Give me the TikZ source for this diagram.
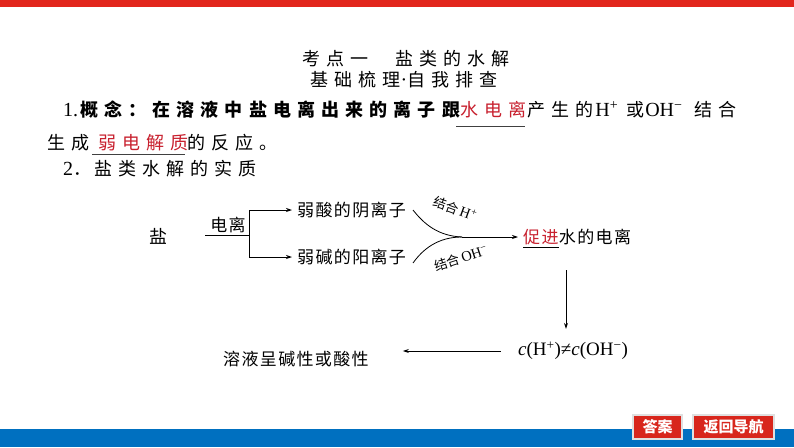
\documentclass[tikz,border=0pt]{standalone}
\usepackage{fontspec}
\setmainfont{Liberation Serif}
\newfontfamily\cjk{Noto Sans CJK SC}
\newfontfamily\cjkA{Noto Sans CJK SC}[LetterSpace=34]
\newfontfamily\cjkB{Noto Sans CJK SC}[LetterSpace=8]
\newcommand\lat{\rmfamily}
\usetikzlibrary{arrows.meta}
\definecolor{topred}{HTML}{E2261C}
\definecolor{botblue}{HTML}{0070C0}
\definecolor{ansred}{HTML}{C8202E}
\definecolor{btnred}{HTML}{D8261C}
\definecolor{ulgray}{HTML}{404040}
\tikzset{
  ttl/.style={inner sep=0pt, font=\fontsize{18}{20}\selectfont\cjkA},
  body/.style={inner sep=0pt, anchor=west, font=\fontsize{18}{20}\selectfont\cjkA},
  flow/.style={inner sep=0pt, font=\fontsize{17}{19}\selectfont\cjkB},
  lbl/.style={inner sep=0pt, font=\fontsize{13}{14}\selectfont\cjk},
  ln/.style={draw, line width=0.8pt},
  arr/.style={draw, line width=0.8pt, -{Stealth[length=6pt,width=4pt]}},
  ul/.style={draw=ulgray, line width=0.9pt},
  btn/.style={fill=btnred, draw=black!12, line width=1.2pt, text=white, inner sep=0pt,
    minimum height=24pt, font=\fontsize{15}{16}\selectfont\cjk\bfseries}
}
\begin{document}
\begin{tikzpicture}[x=1pt,y=-1pt]
\useasboundingbox (0,0) rectangle (794,447);
\fill[white] (0,0) rectangle (794,447);
\fill[topred] (0,0) rectangle (794,7);
\fill[botblue] (0,429) rectangle (794,447);

% title
\node[ttl, anchor=west] (t1a) at (302,59) {考点一};
\node[ttl, anchor=west] (t1b) at (395,59) {盐类的水解};
\node[ttl, anchor=west] (t2) at (310,80) {基础梳理{\fontsize{20}{22}\selectfont\lat ·}自我排查};

% line 1
\node[body, font=\fontsize{20}{22}\selectfont\lat] (l1n) at (63,110) {1.};
\node[body, font=\fontsize{18}{20}\selectfont\cjkA\bfseries] (l1a) at (80,110) {概念：在溶液中盐电离出来的离子跟};
\node[body, text=ansred] (l1b) at (460,110) {水电离};
\draw[ul] (456,126) -- (525,126);
\node[body] (l1c) at (527,110) {产生的\hspace{2pt}\fontsize{20}{22}\selectfont\lat H\textsuperscript{+}\hspace{8pt}\fontsize{18}{20}\selectfont\cjkA 或\hspace{1pt}\fontsize{20}{22}\selectfont\lat OH\textsuperscript{−}\hspace{12pt}\fontsize{18}{20}\selectfont\cjkA 结合};

% line 2
\node[body] (l2a) at (47,143) {生成};
\node[body, text=ansred] (l2b) at (98,143) {弱电解质};
\draw[ul] (92,154) -- (185,154);
\node[body] (l2c) at (187,143) {的反应。};

% line 3
\node[body] (l3) at (63,169) {\fontsize{20}{22}\selectfont\lat 2\fontsize{18}{20}\selectfont\cjkA ．\hspace{3pt}盐类水解的实质};

% flow chart
\node[flow, font=\fontsize{18}{20}\selectfont\cjkB] (salt) at (158,236) {盐};
\coordinate (s0) at (205,235);
\coordinate (br) at (249,235);
\coordinate (bu) at (249,210);
\coordinate (bd) at (249,257);
\node[flow, anchor=south] (ion) at (228,233) {电离};
\node[flow, anchor=west] (acid) at (297,210) {弱酸的阴离子};
\node[flow, anchor=west] (base) at (297,257) {弱碱的阳离子};
\draw[ln] (s0) -- (br);
\draw[ln] (bu) -- (bd);
\draw[arr, shorten >=5pt] (bu) -- (acid);
\draw[arr, shorten >=5pt] (bd) -- (base);

\coordinate (cu) at (413,210);
\coordinate (cd) at (413,263);
\coordinate (m) at (462,237);
\draw[ln] (cu) .. controls (424,224) and (438,236) .. (m);
\draw[ln] (cd) .. controls (423,249) and (438,237) .. (m);

\node[lbl, rotate=-20] (lu) at (455,209) {结合\,\fontsize{14.5}{15}\selectfont\lat H\textsuperscript{+}};
\node[lbl, rotate=18] (ld) at (461,258) {结合\,\fontsize{14.5}{15}\selectfont\lat OH\textsuperscript{−}};

\node[flow, anchor=west, text=ansred] (prom) at (523,237) {促进};
\node[flow, anchor=west] (water) at (prom.east) {水的电离};
\draw[arr, shorten >=5pt] (m) -- (prom);
\draw[line width=0.8pt] ([yshift=-2pt]prom.south west) -- ([yshift=-2pt]prom.south east);

\coordinate (v0) at (566,270);
\node[inner sep=0pt, font=\fontsize{19}{21}\selectfont\lat] (neq) at (573,351) {\textit{c}(H\textsuperscript{+})≠\textit{c}(OH\textsuperscript{−})};
\draw[arr, shorten >=13pt] (v0) -- (v0 |- neq.north);

\node[flow, anchor=west] (sol) at (223,359) {溶液呈碱性或酸性};
\draw[arr, shorten <=17pt, shorten >=34pt] (neq.west) -- (neq.west -| sol.east);

% buttons
\node[btn, minimum width=49pt] (ans) at (657.5,427) {答案};
\node[btn, minimum width=81pt] (nav) at (733.5,427) {返回导航};
\end{tikzpicture}
\end{document}
